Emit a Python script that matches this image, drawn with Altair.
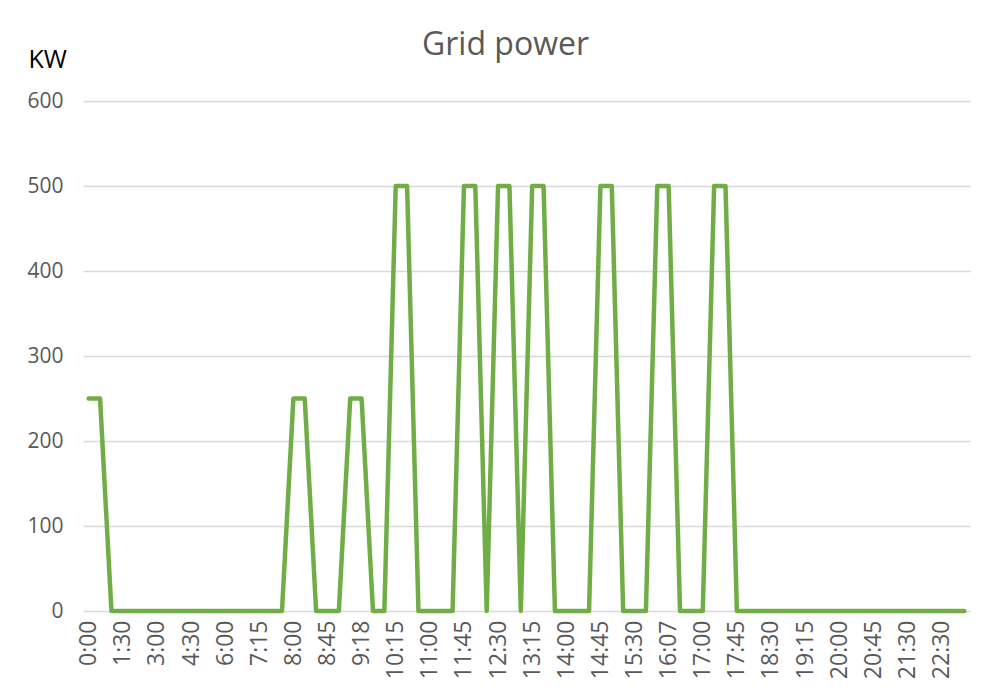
import altair as alt
import pandas as pd

times = [
    "0:00", "0:30", "1:00", "1:30", "2:00", "2:30", "3:00", "3:30", "4:00", "4:30",
    "5:00", "5:30", "6:00", "6:30", "7:00", "7:15", "7:30", "7:45", "8:00", "8:15",
    "8:30", "8:45", "9:00", "9:10", "9:18", "9:37", "9:56", "10:15", "10:30", "10:45",
    "11:00", "11:15", "11:30", "11:45", "12:00", "12:15", "12:30", "12:45", "13:00", "13:15",
    "13:30", "13:45", "14:00", "14:15", "14:30", "14:45", "15:00", "15:15", "15:30", "15:45",
    "16:00", "16:07", "16:25", "16:42", "17:00", "17:15", "17:30", "17:45", "18:00", "18:15",
    "18:30", "18:45", "19:00", "19:15", "19:30", "19:45", "20:00", "20:15", "20:30", "20:45",
    "21:00", "21:15", "21:30", "21:50", "22:10", "22:30", "23:00", "23:30",
]

grid_kw = [
    250, 250, 0, 0, 0, 0, 0, 0, 0, 0,
    0, 0, 0, 0, 0, 0, 0, 0, 250, 250,
    0, 0, 0, 250, 250, 0, 0, 500, 500, 0,
    0, 0, 0, 500, 500, 0, 500, 500, 0, 500,
    500, 0, 0, 0, 0, 500, 500, 0, 0, 0,
    500, 500, 0, 0, 0, 500, 500, 0, 0, 0,
    0, 0, 0, 0, 0, 0, 0, 0, 0, 0,
    0, 0, 0, 0, 0, 0, 0, 0,
]

shown_labels = times[::3]

df = pd.DataFrame({"time": times, "kw": grid_kw})

FONT = "Open Sans"
GREY = "#595959"

chart = (
    alt.Chart(df)
    .mark_line(color="#70ad47", strokeWidth=4.5, strokeJoin="round", strokeCap="round")
    .encode(
        x=alt.X(
            "time:O",
            sort=times,
            title=None,
            axis=alt.Axis(
                values=shown_labels,
                labelAngle=-90,
                labelAlign="right",
                labelBaseline="middle",
                labelPadding=9,
                labelFontSize=23,
                labelColor=GREY,
                labelFont=FONT,
                ticks=False,
                domain=False,
                grid=False,
                labelOverlap=False,
            ),
        ),
        y=alt.Y(
            "kw:Q",
            scale=alt.Scale(domain=[0, 600]),
            axis=alt.Axis(
                values=[0, 100, 200, 300, 400, 500, 600],
                title="KW",
                titleAngle=0,
                titleAlign="left",
                titleBaseline="alphabetic",
                titleX=-55,
                titleY=-34,
                titleFontSize=25,
                titleFontWeight="normal",
                titleColor="#000000",
                titleFont=FONT,
                labelFontSize=21,
                labelColor=GREY,
                labelFont=FONT,
                labelPadding=20,
                ticks=False,
                domain=False,
                gridColor="#d9d9d9",
                gridWidth=1.5,
            ),
        ),
    )
    .properties(
        width=887,
        height=510,
        background="white",
        title=alt.TitleParams(
            "Grid power",
            fontSize=32,
            font=FONT,
            fontWeight="normal",
            color=GREY,
            anchor="middle",
            baseline="alphabetic",
            dx=-21,
            dy=40,
            offset=0,
        ),
        autosize=alt.AutoSizeParams(type="none"),
        padding={"left": 75, "top": 93, "right": 12, "bottom": 79},
    )
    .configure_view(strokeWidth=0)
)

chart.save("out.html", embed_options={"renderer": "svg", "actions": False})
